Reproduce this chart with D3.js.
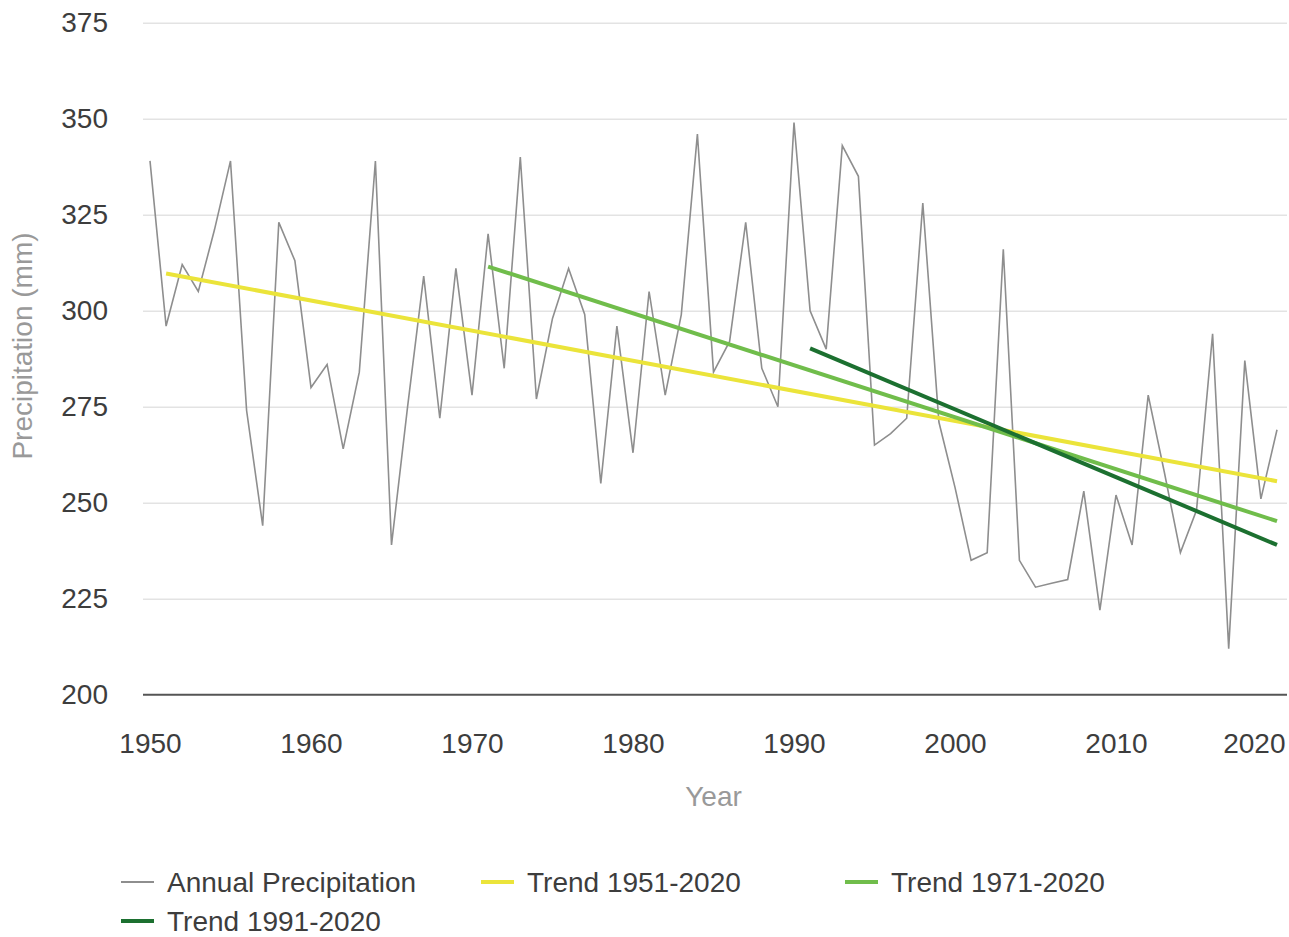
<!DOCTYPE html>
<html>
<head>
<meta charset="utf-8">
<script src="https://cdn.jsdelivr.net/npm/d3@7"></script>
<style>
  html, body { margin: 0; padding: 0; background: #ffffff; }
  svg { display: block; }
  text { font-family: "Liberation Sans", Arial, sans-serif; }
</style>
</head>
<body>
<svg id="chart" width="1289" height="937"></svg>
<script>
// ---- data ----
const years = d3.range(1950, 2021);
const precipitation = [
  339, 296, 312, 305, 321, 339, 274, 244, 323, 313,
  280, 286, 264, 284, 339, 239, 275, 309, 272, 311,
  278, 320, 285, 340, 277, 298, 311, 299, 255, 296,
  263, 305, 278, 299, 346, 284, 292, 323, 285, 275,
  349, 300, 290, 343, 335, 265, 268, 272, 328, 271,
  254, 235, 237, 316, 235, 228, 229, 230, 253, 222,
  252, 239, 278, 258, 237, 248, 294, 212, 287, 251,
  269
];
const trendNames = ["Trend 1951-2020", "Trend 1971-2020", "Trend 1991-2020"];
const trendStartYear = [1951, 1971, 1991];
const trendEndYear = [2020, 2020, 2020];
const trendStartValue = [309.7, 311.5, 290.2];
const trendEndValue = [255.6, 245.2, 239.0];
const yTicks = [200, 225, 250, 275, 300, 325, 350, 375];
const xTicks = [1950, 1960, 1970, 1980, 1990, 2000, 2010, 2020];
const seriesName = "Annual Precipitation";
const xTitle = "Year";
const yTitle = "Precipitation (mm)";

// ---- styles ----
const trendColors = ["#ebe43a", "#70bd4b", "#1c7030"];
const dataColor = "#8e8e8e";
const FONT = 28;

const svg = d3.select("#chart");
const plotLeft = 143, plotRight = 1287;

const x = d3.scaleLinear().domain([1950, 2020]).range([150, 1277]);
const y = d3.scaleLinear().domain([200, 375]).range([694.7, 22.7]);

// gridlines
const grid = svg.append("g")
  .attr("transform", `translate(${plotLeft},0)`)
  .call(d3.axisLeft(y).tickValues(yTicks.filter(d => d !== 200)).tickSize(-(plotRight - plotLeft)).tickFormat(""));
grid.select(".domain").remove();
grid.selectAll("line").attr("stroke", "#e3e3e3").attr("stroke-width", 1.6);

// y labels
const yAxis = svg.append("g")
  .attr("transform", "translate(108,0)")
  .call(d3.axisLeft(y).tickValues(yTicks).tickSize(0).tickPadding(0).tickFormat(d3.format("d")));
yAxis.select(".domain").remove();
yAxis.selectAll("text")
  .attr("fill", "#3d3d3d").style("font-size", FONT + "px")
  .style("font-family", '"Liberation Sans", Arial, sans-serif');

// baseline
svg.append("line")
  .attr("x1", plotLeft).attr("x2", plotRight)
  .attr("y1", y(200)).attr("y2", y(200))
  .attr("stroke", "#555").attr("stroke-width", 2);

// x labels
const xAxis = svg.append("g")
  .attr("transform", "translate(0,733)")
  .call(d3.axisBottom(x).tickValues(xTicks).tickSize(0).tickPadding(0).tickFormat(d3.format("d")));
xAxis.select(".domain").remove();
xAxis.selectAll("text")
  .attr("fill", "#3d3d3d").style("font-size", FONT + "px")
  .style("font-family", '"Liberation Sans", Arial, sans-serif');
// keep last label inside the chart area like the reference
xAxis.selectAll(".tick text").each(function(d) {
  const w = this.getComputedTextLength();
  const cx = x(d);
  if (cx + w / 2 > plotRight - 2) {
    d3.select(this).attr("dx", (plotRight - 2 - w / 2 - cx));
  }
});

// axis titles
svg.append("text")
  .attr("x", x(1985)).attr("y", 806)
  .attr("text-anchor", "middle")
  .attr("fill", "#999").style("font-size", FONT + "px")
  .text(xTitle);
svg.append("text")
  .attr("transform", `translate(32,${y(290.8)}) rotate(-90)`)
  .attr("text-anchor", "middle")
  .attr("fill", "#999").style("font-size", FONT + "px")
  .text(yTitle);

// data line
const line = d3.line().x((d, i) => x(years[i])).y(d => y(d));
svg.append("path")
  .datum(precipitation)
  .attr("d", line)
  .attr("fill", "none")
  .attr("stroke", dataColor)
  .attr("stroke-width", 1.6)
  .attr("stroke-linejoin", "miter");

// trend lines
trendNames.forEach((name, i) => {
  svg.append("line")
    .attr("x1", x(trendStartYear[i])).attr("y1", y(trendStartValue[i]))
    .attr("x2", x(trendEndYear[i])).attr("y2", y(trendEndValue[i]))
    .attr("stroke", trendColors[i])
    .attr("stroke-width", 4)
    .attr("stroke-linecap", "butt");
});

// legend
const legendItems = [
  { name: seriesName, color: dataColor, width: 2, x: 121, y: 882 },
  { name: trendNames[0], color: trendColors[0], width: 4, x: 481, y: 882 },
  { name: trendNames[1], color: trendColors[1], width: 4, x: 845, y: 882 },
  { name: trendNames[2], color: trendColors[2], width: 4, x: 121, y: 921 }
];
const lg = svg.append("g");
legendItems.forEach(it => {
  lg.append("line")
    .attr("x1", it.x).attr("x2", it.x + 33)
    .attr("y1", it.y).attr("y2", it.y)
    .attr("stroke", it.color).attr("stroke-width", it.width);
  lg.append("text")
    .attr("x", it.x + 46).attr("y", it.y)
    .attr("dy", "0.35em")
    .attr("fill", "#3d3d3d").style("font-size", FONT + "px")
    .text(it.name);
});
</script>
</body>
</html>
